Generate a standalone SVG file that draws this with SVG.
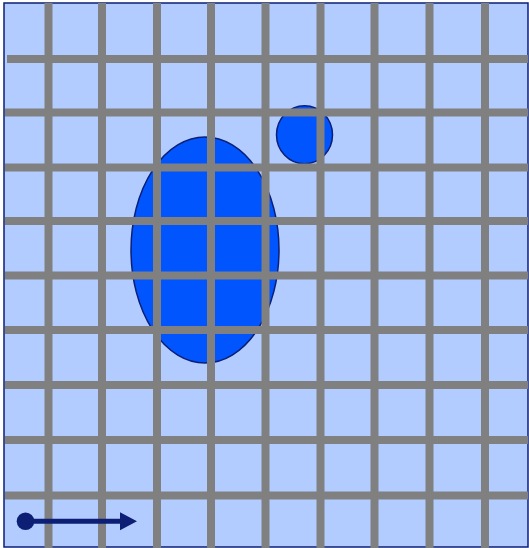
<svg xmlns="http://www.w3.org/2000/svg" width="529" height="548" viewBox="0 0 529 548">
<style>
.bg{fill:#b3ccff;stroke:#0c1f75;stroke-width:1.5}
.blob{fill:#0055ff;stroke:#0c1f75;stroke-width:1.5}
.grid line{stroke:#808080;stroke-width:8}
.arrow{stroke:#0c1f75;stroke-width:5;fill:none}
</style>
<defs>
<marker id="ah" markerWidth="4" markerHeight="4" refX="0" refY="2" orient="auto" markerUnits="strokeWidth">
<path d="M0,0.2 L3.4,2 L0,3.8 Z" fill="#0c1f75"/>
</marker>
</defs>
<rect class="bg" x="4" y="3" width="524" height="544"/>
<g id="ellipse"><ellipse class="blob" cx="205" cy="250" rx="74" ry="113"/></g>
<g id="circle"><ellipse class="blob" cx="304.5" cy="134.7" rx="28" ry="29"/></g>
<g id="grid" class="grid">
<line x1="48.5" y1="3" x2="48.5" y2="548"/>
<line x1="102" y1="3" x2="102" y2="548"/>
<line x1="157" y1="3" x2="157" y2="548"/>
<line x1="211" y1="3" x2="211" y2="548"/>
<line x1="265.5" y1="3" x2="265.5" y2="548"/>
<line x1="320.5" y1="3" x2="320.5" y2="548"/>
<line x1="374.5" y1="3" x2="374.5" y2="548"/>
<line x1="429.5" y1="3" x2="429.5" y2="548"/>
<line x1="485" y1="3" x2="485" y2="548"/>
<line x1="7" y1="59" x2="528" y2="59"/>
<line x1="5" y1="112.5" x2="528" y2="112.5"/>
<line x1="5" y1="167.5" x2="528" y2="167.5"/>
<line x1="5" y1="221" x2="528" y2="221"/>
<line x1="5" y1="275.5" x2="528" y2="275.5"/>
<line x1="5" y1="330" x2="528" y2="330"/>
<line x1="5" y1="385" x2="528" y2="385"/>
<line x1="5" y1="440" x2="528" y2="440"/>
<line x1="5" y1="495.5" x2="528" y2="495.5"/>
</g>
<g id="connectors">
<circle cx="25.5" cy="521.3" r="8.8" fill="#0c1f75"/>
<line class="arrow" x1="26" y1="521.3" x2="120" y2="521.3" marker-end="url(#ah)"/>
</g>
</svg>
